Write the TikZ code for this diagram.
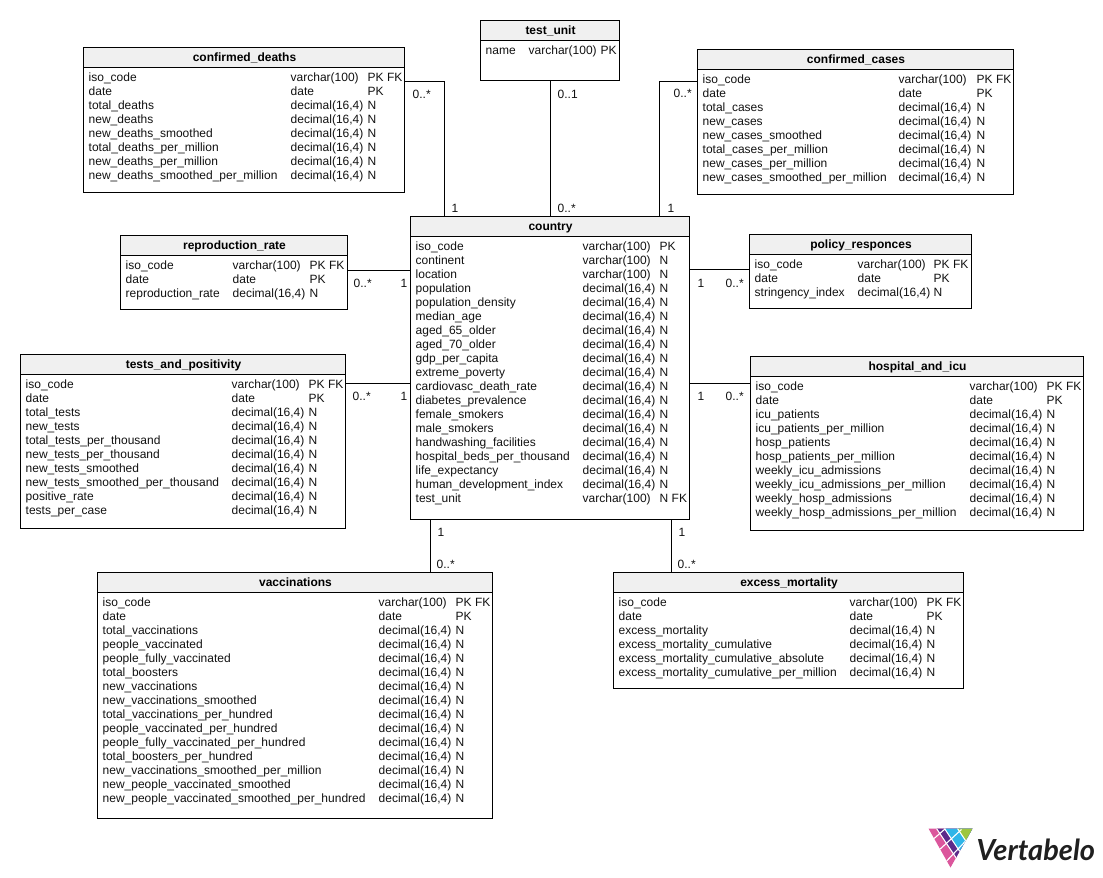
\documentclass[tikz,border=0pt]{standalone}
\usepackage{fontspec}
\setmainfont{Liberation Sans}
\newfontfamily\logofont[BoldItalicFont={Lato Bold Italic}]{Lato}
\usetikzlibrary{calc}
\definecolor{hdr}{HTML}{F0F0F0}
\definecolor{ink}{HTML}{111111}
\definecolor{lpink}{HTML}{DB569C}
\definecolor{lpurple}{HTML}{5C2A8A}
\definecolor{lblue}{HTML}{2FB5E8}
\definecolor{lgreen}{HTML}{9DC63F}
\tikzset{
  x=1pt,y=-1pt,
  tablebox/.style={draw=black,line width=1pt,inner sep=0pt,outer sep=0pt},
  celltext/.style={inner sep=0pt,anchor=base west,text=ink,font=\fontsize{12}{14}\selectfont},
  titletext/.style={inner sep=0pt,anchor=base,text=black,font=\fontsize{12}{14}\selectfont\bfseries},
  conn/.style={draw=black,line width=1pt},
  card/.style={inner sep=0pt,anchor=base west,text=ink,font=\fontsize{12}{14}\selectfont},
}
\newcommand{\dc}{decimal(16,4)}
\newcommand{\vc}{varchar(100)}
% name x1 y1 x2 y2 title c1 c2 c3 rows
\newcommand{\erdtable}[9]{%
  \node[tablebox,minimum width={(#4-#2)*1pt},minimum height={(#5-#3)*1pt}] (#1) at ({(#2+#4)/2},{(#3+#5)/2}) {};
  \fill[hdr] (#1.north west) rectangle ($(#1.north east)+(0,20)$);
  \draw[line width=1pt] (#1.north west) -- (#1.north east) -- (#1.south east) -- (#1.south west) -- cycle;
  \draw[line width=1pt] ($(#1.north west)+(0,20)$) -- ($(#1.north east)+(0,20)$);
  \node[titletext] (#1-title) at ($(#1.north)+(0.5,14)$) {#6};
  \foreach \na/\ty/\fl [count=\i] in {#9} {
    \node[celltext] (#1-n\i) at ({#2+5},{#3+34+14*(\i-1)}) {\na};
    \node[celltext] (#1-t\i) at ({#7},{#3+34+14*(\i-1)}) {\ty};
    \node[celltext] (#1-f\i) at ({#8},{#3+34+14*(\i-1)}) {\fl};
  }
}
\begin{document}
\begin{tikzpicture}
\useasboundingbox (-0.5,-0.5) rectangle (1102.5,877.5);

\erdtable{testunit}{480}{20}{619}{80}{test\_unit}{528}{600}{name/\vc/PK}

\erdtable{deaths}{83}{47}{404}{192}{confirmed\_deaths}{290}{367}{
iso\_code/\vc/PK FK,date/date/PK,total\_deaths/\dc/N,new\_deaths/\dc/N,new\_deaths\_smoothed/\dc/N,total\_deaths\_per\_million/\dc/N,new\_deaths\_per\_million/\dc/N,new\_deaths\_smoothed\_per\_million/\dc/N}

\erdtable{cases}{697}{49}{1013}{194}{confirmed\_cases}{898}{976}{
iso\_code/\vc/PK FK,date/date/PK,total\_cases/\dc/N,new\_cases/\dc/N,new\_cases\_smoothed/\dc/N,total\_cases\_per\_million/\dc/N,new\_cases\_per\_million/\dc/N,new\_cases\_smoothed\_per\_million/\dc/N}

\erdtable{country}{410}{216}{689}{519}{country}{582}{659}{
iso\_code/\vc/PK,continent/\vc/N,location/\vc/N,population/\dc/N,population\_density/\dc/N,median\_age/\dc/N,aged\_65\_older/\dc/N,aged\_70\_older/\dc/N,gdp\_per\_capita/\dc/N,extreme\_poverty/\dc/N,cardiovasc\_death\_rate/\dc/N,diabetes\_prevalence/\dc/N,female\_smokers/\dc/N,male\_smokers/\dc/N,handwashing\_facilities/\dc/N,hospital\_beds\_per\_thousand/\dc/N,life\_expectancy/\dc/N,human\_development\_index/\dc/N,test\_unit/\vc/N FK}

\erdtable{repro}{120}{235}{347}{309}{reproduction\_rate}{232}{309}{
iso\_code/\vc/PK FK,date/date/PK,reproduction\_rate/\dc/N}

\erdtable{policy}{749}{234}{971}{308}{policy\_responces}{857}{933}{
iso\_code/\vc/PK FK,date/date/PK,stringency\_index/\dc/N}

\erdtable{tests}{20}{354}{345}{528}{tests\_and\_positivity}{231}{308}{
iso\_code/\vc/PK FK,date/date/PK,total\_tests/\dc/N,new\_tests/\dc/N,total\_tests\_per\_thousand/\dc/N,new\_tests\_per\_thousand/\dc/N,new\_tests\_smoothed/\dc/N,new\_tests\_smoothed\_per\_thousand/\dc/N,positive\_rate/\dc/N,tests\_per\_case/\dc/N}

\erdtable{hospital}{750}{356}{1083}{530}{hospital\_and\_icu}{969}{1046}{
iso\_code/\vc/PK FK,date/date/PK,icu\_patients/\dc/N,icu\_patients\_per\_million/\dc/N,hosp\_patients/\dc/N,hosp\_patients\_per\_million/\dc/N,weekly\_icu\_admissions/\dc/N,weekly\_icu\_admissions\_per\_million/\dc/N,weekly\_hosp\_admissions/\dc/N,weekly\_hosp\_admissions\_per\_million/\dc/N}

\erdtable{vacc}{97}{572}{492}{818}{vaccinations}{378}{455}{
iso\_code/\vc/PK FK,date/date/PK,total\_vaccinations/\dc/N,people\_vaccinated/\dc/N,people\_fully\_vaccinated/\dc/N,total\_boosters/\dc/N,new\_vaccinations/\dc/N,new\_vaccinations\_smoothed/\dc/N,total\_vaccinations\_per\_hundred/\dc/N,people\_vaccinated\_per\_hundred/\dc/N,people\_fully\_vaccinated\_per\_hundred/\dc/N,total\_boosters\_per\_hundred/\dc/N,new\_vaccinations\_smoothed\_per\_million/\dc/N,new\_people\_vaccinated\_smoothed/\dc/N,new\_people\_vaccinated\_smoothed\_per\_hundred/\dc/N}

\erdtable{excess}{613}{572}{963}{688}{excess\_mortality}{849}{926}{
iso\_code/\vc/PK FK,date/date/PK,excess\_mortality/\dc/N,excess\_mortality\_cumulative/\dc/N,excess\_mortality\_cumulative\_absolute/\dc/N,excess\_mortality\_cumulative\_per\_million/\dc/N}

% connectors
\draw[conn] ($(deaths.north east)+(0,34)$) -| ($(country.north west)+(34,0)$);
\draw[conn] (testunit.south) -- (country.north);
\draw[conn] ($(cases.north west)+(0,32)$) -| ($(country.north east)+(-30,0)$);
\draw[conn] ($(repro.north east)+(0,35)$) -- ($(country.north west)+(0,54)$);
\draw[conn] ($(country.north east)+(0,53)$) -- ($(policy.north west)+(0,35)$);
\draw[conn] ($(tests.north east)+(0,29)$) -- ($(country.north west)+(0,167)$);
\draw[conn] ($(country.north east)+(0,167)$) -- ($(hospital.north west)+(0,27)$);
\draw[conn] ($(country.south west)+(20,0)$) -- ($(vacc.north west)+(333,0)$);
\draw[conn] ($(country.south east)+(-18,0)$) -- ($(excess.north west)+(58,0)$);

% cardinalities
\node[card] (c1)  at (412,98)  {0..*};
\node[card] (c2)  at (451,212) {1};
\node[card] (c3)  at (557,98)  {0..1};
\node[card] (c4)  at (557,212) {0..*};
\node[card] (c5)  at (673,97)  {0..*};
\node[card] (c6)  at (667,212) {1};
\node[card] (c7)  at (353,287) {0..*};
\node[card] (c8)  at (400,287) {1};
\node[card] (c9)  at (697,287) {1};
\node[card] (c10) at (725,287) {0..*};
\node[card] (c11) at (352,400) {0..*};
\node[card] (c12) at (400,400) {1};
\node[card] (c13) at (697,400) {1};
\node[card] (c14) at (725,400) {0..*};
\node[card] (c15) at (437,536) {1};
\node[card] (c16) at (436,568) {0..*};
\node[card] (c17) at (678,536) {1};
\node[card] (c18) at (677,568) {0..*};

% logo
\begin{scope}
  \clip (928,828) -- (972,828) -- (950,867) -- cycle;
  \fill[lpink]   (920,820) rectangle (990,880);
  \fill[lpurple] (936,828) -- (990,828) -- (990,909) -- cycle;
  \fill[lblue]   (944,828) -- (990,828) -- (990,897) -- cycle;
  \fill[lgreen]  (957,828) -- (990,828) -- (990,877.5) -- cycle;
  \draw[white,line width=1.1pt] (936,828) -- (966,873);
  \draw[white,line width=1.1pt] (944,828) -- (974,873);
  \draw[white,line width=1.1pt] (957,828) -- (987,873);
  \draw[white,line width=1.1pt] (925,845.5) -- (945,828);
  \draw[white,line width=1.1pt] (932,855.5) -- (961,829);
  \draw[white,line width=1.1pt] (938,869) -- (972.3,833);
\end{scope}
\node[inner sep=0pt,anchor=base west,text=black!88] (logotext) at (976,860) {\fontsize{29}{32}\selectfont\logofont\bfseries\itshape Vertabelo};
\end{tikzpicture}
\end{document}
